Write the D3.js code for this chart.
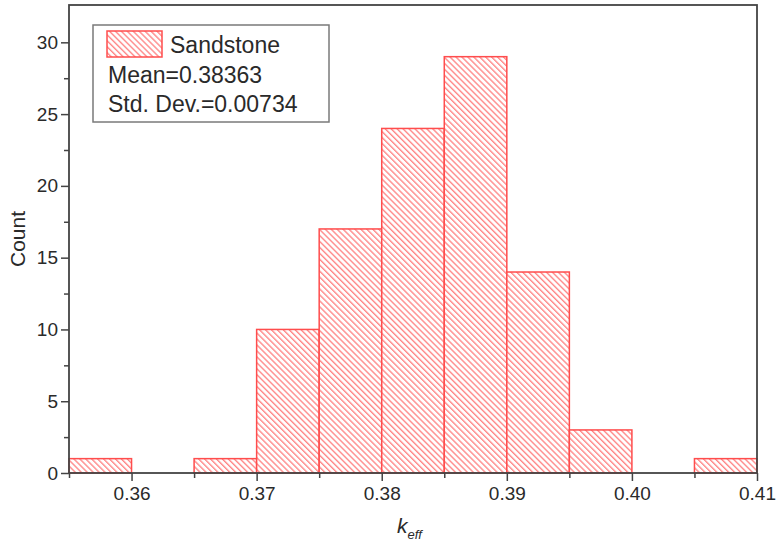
<!DOCTYPE html>
<html>
<head>
<meta charset="utf-8">
<script src="https://cdn.jsdelivr.net/npm/d3@7"></script>
<style>
  html, body { margin: 0; padding: 0; background: #fff; }
  svg { display: block; font-family: "Liberation Sans", Arial, sans-serif; }
</style>
</head>
<body>
<svg id="chart" width="776" height="548"></svg>
<script>
// Histogram bins (left edge of each 0.005-wide bin) and counts
const binStarts = [0.355, 0.360, 0.365, 0.370, 0.375, 0.380, 0.385, 0.390, 0.395, 0.400, 0.405];
const counts    = [1, 0, 1, 10, 17, 24, 29, 14, 3, 0, 1];
const binWidth = 0.005;

const xTicks = [0.36, 0.37, 0.38, 0.39, 0.40, 0.41];
const xMinorTicks = [0.355, 0.365, 0.375, 0.385, 0.395, 0.405];
const yTicks = [0, 5, 10, 15, 20, 25, 30];
const yMinorTicks = [2.5, 7.5, 12.5, 17.5, 22.5, 27.5];

const legendLines = ["Sandstone", "Mean=0.38363", "Std. Dev.=0.00734"];

const svg = d3.select("#chart");
const plotLeft = 69, plotRight = 757, plotTop = 5, plotBottom = 473;

const x = d3.scaleLinear().domain([0.355, 0.41]).range([plotLeft, plotRight]);
const y = d3.scaleLinear().domain([0, 32.6]).range([plotBottom, plotTop]);

// Diagonal hatch fill
const defs = svg.append("defs");
const pat = defs.append("pattern")
  .attr("id", "hatch")
  .attr("patternUnits", "userSpaceOnUse")
  .attr("width", 4.2).attr("height", 4.2)
  .attr("patternTransform", "rotate(-45)");
pat.append("rect").attr("width", 4.2).attr("height", 4.2).attr("fill", "#fff");
pat.append("line")
  .attr("x1", 0.7).attr("y1", 0).attr("x2", 0.7).attr("y2", 4.2)
  .attr("stroke", "#ff8080").attr("stroke-width", 1.3);

const bins = binStarts.map((s, i) => ({ x0: s, x1: s + binWidth, n: counts[i] }));

// Bars
svg.append("g").selectAll("rect")
  .data(bins.filter(d => d.n > 0))
  .join("rect")
  .attr("x", d => x(d.x0))
  .attr("y", d => y(d.n))
  .attr("width", d => x(d.x1) - x(d.x0))
  .attr("height", d => y(0) - y(d.n))
  .attr("fill", "url(#hatch)")
  .attr("stroke", "#ff4d4d")
  .attr("stroke-width", 1.5);

const axisColor = "#444";
const textColor = "#2a2a2a";

// X axis
svg.append("g").attr("transform", `translate(0,${plotBottom})`)
  .call(d3.axisBottom(x).tickValues(xTicks).tickFormat(d3.format(".2f")).tickSize(8).tickSizeOuter(0).tickPadding(6));
svg.append("g").attr("transform", `translate(0,${plotBottom})`)
  .call(d3.axisBottom(x).tickValues(xMinorTicks).tickFormat("").tickSize(5).tickSizeOuter(0));

// Y axis
svg.append("g").attr("transform", `translate(${plotLeft},0)`)
  .call(d3.axisLeft(y).tickValues(yTicks).tickFormat(d3.format("d")).tickSize(8).tickSizeOuter(0).tickPadding(3));
svg.append("g").attr("transform", `translate(${plotLeft},0)`)
  .call(d3.axisLeft(y).tickValues(yMinorTicks).tickFormat("").tickSize(5).tickSizeOuter(0));

svg.selectAll(".domain").remove();
svg.selectAll(".tick line").attr("stroke", axisColor).attr("stroke-width", 1.5);
svg.selectAll(".tick text")
  .attr("fill", textColor)
  .style("font-size", "19px")
  .style("font-family", '"Liberation Sans", Arial, sans-serif');

// Frame
svg.append("rect")
  .attr("x", plotLeft).attr("y", plotTop)
  .attr("width", plotRight - plotLeft).attr("height", plotBottom - plotTop)
  .attr("fill", "none").attr("stroke", axisColor).attr("stroke-width", 1.8);

// Axis titles
svg.append("text")
  .attr("transform", `translate(25,239) rotate(-90)`)
  .attr("text-anchor", "middle")
  .attr("fill", textColor)
  .style("font-size", "21px")
  .text("Count");

const xt = svg.append("text")
  .attr("x", 397).attr("y", 533)
  .attr("fill", textColor)
  .style("font-size", "21px")
  .style("font-style", "italic");
xt.append("tspan").text("k");
xt.append("tspan").attr("dy", 6).style("font-size", "13px").text("eff");

// Legend
const lg = svg.append("g");
lg.append("rect")
  .attr("x", 93).attr("y", 25).attr("width", 236).attr("height", 97)
  .attr("fill", "#fff").attr("stroke", "#7a7a7a").attr("stroke-width", 1.5);
lg.append("rect")
  .attr("x", 107).attr("y", 31).attr("width", 55).attr("height", 26)
  .attr("fill", "url(#hatch)").attr("stroke", "#ff4d4d").attr("stroke-width", 1.5);
lg.append("text").attr("x", 170).attr("y", 53)
  .attr("fill", textColor).style("font-size", "23px").text(legendLines[0]);
lg.append("text").attr("x", 108).attr("y", 83)
  .attr("fill", textColor).style("font-size", "23px").text(legendLines[1]);
lg.append("text").attr("x", 108).attr("y", 112)
  .attr("fill", textColor).style("font-size", "23px").text(legendLines[2]);
</script>
</body>
</html>
